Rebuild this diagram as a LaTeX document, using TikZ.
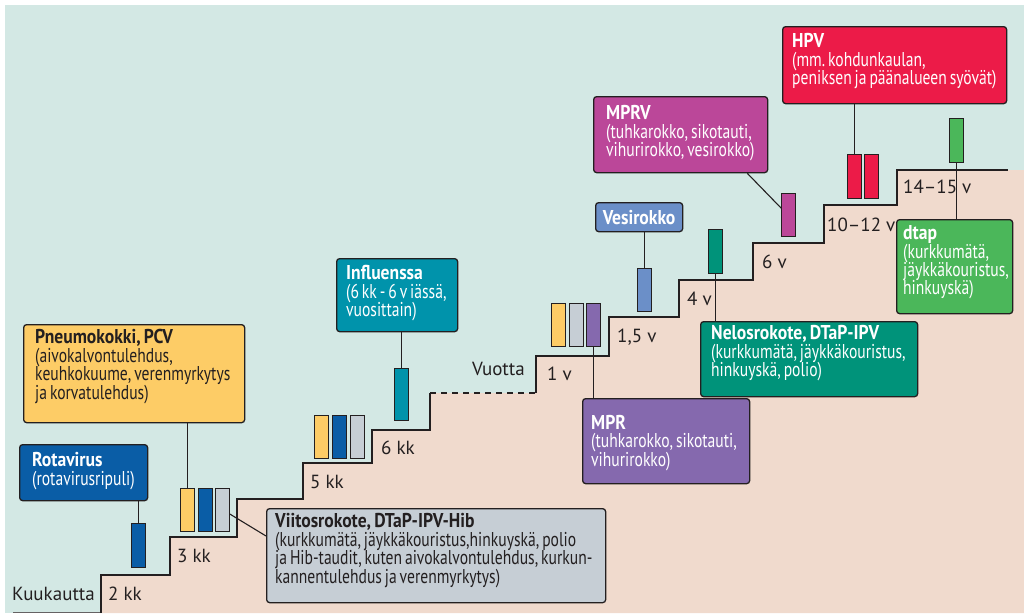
\documentclass[tikz,border=0pt]{standalone}
\usepackage{fontspec}
\setmainfont{PT Sans}
\newfontfamily\condfont[WordSpace=0.7, UprightFeatures={FakeStretch=0.78}, BoldFeatures={FakeStretch=0.88}]{PT Sans}
\usetikzlibrary{calc}

\definecolor{ink}{HTML}{231F20}
\definecolor{tausta}{HTML}{D3E8E4}
\definecolor{porras}{HTML}{F0DACD}
\definecolor{rotasin}{HTML}{0A5DA6}
\definecolor{pcvkelt}{HTML}{FDCC66}
\definecolor{viitoharm}{HTML}{C6CED5}
\definecolor{influturk}{HTML}{0093AB}
\definecolor{vesisin}{HTML}{6B8FC8}
\definecolor{mprvio}{HTML}{8569AE}
\definecolor{nelosvih}{HTML}{00937A}
\definecolor{mprvpun}{HTML}{BB4799}
\definecolor{hpvpun}{HTML}{EC1B48}
\definecolor{dtapvih}{HTML}{4BB75A}

\newcommand\boxfont{\condfont\fontsize{20}{18.4}\selectfont\frenchspacing\lineskiplimit=-20pt}
\newcommand\stepfont{\fontsize{19}{20}\selectfont}

\tikzset{
  vbox/.style={draw=ink, line width=1.3pt, rounded corners=3pt, anchor=north west, inner sep=0pt},
  vtext/.style={anchor=north west, inner sep=0pt, align=left, font=\boxfont, text=white},
  bar/.style={draw=ink, line width=1.3pt, anchor=north west, inner sep=0pt,
    minimum width=13.5pt, minimum height=43pt},
  steplbl/.style={anchor=base west, inner sep=0pt, font=\stepfont, text=ink},
  link/.style={draw=ink, line width=1.1pt},
}

\begin{document}
\begin{tikzpicture}[x=1pt, y=-1pt]
  \useasboundingbox (0,0) rectangle (1024,613);

  % Taustat
  \fill[white] (0,0) rectangle (1024,613);
  \fill[tausta] (5,5) rectangle (1024,613);
  \fill[porras] (101,613) -- (101,575) -- (170,575) -- (170,537) -- (237,537)
    -- (237,499) -- (303,499) -- (303,463) -- (372,463) -- (372,430) -- (430,430)
    -- (430,393) -- (536,393) -- (536,356) -- (609,356) -- (609,317) -- (679,317)
    -- (679,280) -- (753,280) -- (753,243) -- (824,243) -- (824,205) -- (897,205)
    -- (897,170) -- (1024,170) -- (1024,613) -- cycle;

  % Portaat
  \draw[ink!70, line width=1pt] (13,612) -- (101,612);
  \draw[ink, line width=1.5pt] (101,613) -- (101,575) -- (170,575) -- (170,537)
    -- (237,537) -- (237,499) -- (303,499) -- (303,463) -- (372,463) -- (372,430)
    -- (430,430) -- (430,393);
  \draw[ink, line width=1.5pt, dash pattern=on 6pt off 5pt] (430,393) -- (536,393);
  \draw[ink, line width=1.5pt] (536,393) -- (536,356) -- (609,356) -- (609,317)
    -- (679,317) -- (679,280) -- (753,280) -- (753,243) -- (824,243) -- (824,205)
    -- (897,205) -- (897,170) -- (1008,170);

  % Ika-tekstit
  \node[steplbl] (kuuk) at (12,600) {Kuukautta};
  \node[steplbl] (kk2) at (108,600) {2 kk};
  \node[steplbl] (kk3) at (177,562) {3 kk};
  \node[steplbl] (kk5) at (310,488) {5 kk};
  \node[steplbl] (kk6) at (381,454) {6 kk};
  \node[steplbl] (vuotta) at (472,375) {Vuotta};
  \node[steplbl] (v1) at (547,380) {1 v};
  \node[steplbl] (v15) at (617,342) {1,5 v};
  \node[steplbl] (v4) at (687,305) {4 v};
  \node[steplbl] (v6) at (762,268) {6 v};
  \node[steplbl] (v1012) at (827,231) {10–12 v};
  \node[steplbl] (v1415) at (903,193) {14–15 v};

  % Rokotteiden laatikot
  \node[vbox, fill=rotasin, minimum width=128pt, minimum height=56pt] (rota) at (19,444) {};
  \node[vtext] (rotatxt) at ($(rota.north west)+(13,8.5)$)
    {\textbf{Rotavirus}\\(rotavirusripuli)};
  \node[vbox, fill=pcvkelt, minimum width=221pt, minimum height=98pt] (pcv) at (23,324) {};
  \node[vtext, text=ink] (pcvtxt) at ($(pcv.north west)+(12,5.5)$)
    {\textbf{Pneumokokki, PCV}\\(aivokalvontulehdus,\\keuhkokuume, verenmyrkytys\\ja korvatulehdus)};
  \node[vbox, fill=viitoharm, minimum width=339pt, minimum height=94pt] (viito) at (266,508) {};
  \node[vtext, text=ink] (viitotxt) at ($(viito.north west)+(9,5.5)$)
    {\textbf{Viitosrokote, DTaP-IPV-Hib}\\(kurkkumätä, jäykkäkouristus,hinkuyskä, polio\\ja Hib-taudit, kuten aivokalvontulehdus, kurkun-\\kannentulehdus ja verenmyrkytys)};
  \node[vbox, fill=influturk, minimum width=121pt, minimum height=73pt] (influ) at (336,258) {};
  \node[vtext] (influtxt) at ($(influ.north west)+(10,7.5)$)
    {\textbf{Influenssa}\\(6 kk - 6 v iässä,\\vuosittain)};
  \node[vbox, fill=vesisin, minimum width=87pt, minimum height=29pt] (vesi) at (595,202) {};
  \node[vtext, anchor=center] (vesitxt) at (vesi.center) {\textbf{Vesirokko}};
  \node[vbox, fill=mprvio, minimum width=167pt, minimum height=85pt] (mpr) at (582,398) {};
  \node[vtext] (mprtxt) at ($(mpr.north west)+(9,17)$)
    {\textbf{MPR}\\(tuhkarokko, sikotauti,\\vihurirokko)};
  \node[vbox, fill=nelosvih, minimum width=217pt, minimum height=75pt] (nelos) at (700,321) {};
  \node[vtext] (nelostxt) at ($(nelos.north west)+(11,4.5)$)
    {\textbf{Nelosrokote, DTaP-IPV}\\(kurkkumätä, jäykkäkouristus,\\hinkuyskä, polio)};
  \node[vbox, fill=mprvpun, minimum width=174pt, minimum height=76pt] (mprv) at (593,96) {};
  \node[vtext] (mprvtxt) at ($(mprv.north west)+(13,9.5)$)
    {\textbf{MPRV}\\(tuhkarokko, sikotauti,\\vihurirokko, vesirokko)};
  \node[vbox, fill=hpvpun, minimum width=224pt, minimum height=77pt] (hpv) at (782,26) {};
  \node[vtext] (hpvtxt) at ($(hpv.north west)+(10,7.5)$)
    {\textbf{HPV}\\(mm. kohdunkaulan,\\peniksen ja päänalueen syövät)};
  \node[vbox, fill=dtapvih, minimum width=116pt, minimum height=94pt] (dtap) at (896,219) {};
  \node[vtext] (dtaptxt) at ($(dtap.north west)+(7,6.5)$)
    {\textbf{dtap}\\(kurkkumätä,\\jäykkäkouristus,\\hinkuyskä)};

  % Palkit
  \node[bar, fill=rotasin, minimum height=44pt] (rotabar) at (131,523) {};
  \node[bar, fill=pcvkelt] (pcv3) at (180,488) {};
  \node[bar, fill=rotasin] (rota3) at (198,488) {};
  \node[bar, fill=viitoharm] (viito3) at (215,488) {};
  \node[bar, fill=pcvkelt] (pcv5) at (314,415) {};
  \node[bar, fill=rotasin] (rota5) at (332,415) {};
  \node[bar, fill=viitoharm] (viito5) at (350,415) {};
  \node[bar, fill=influturk, minimum height=52pt] (influbar) at (394,368) {};
  \node[bar, fill=pcvkelt] (pcv1) at (551,303) {};
  \node[bar, fill=viitoharm] (viito1) at (569,303) {};
  \node[bar, fill=mprvio] (mprbar) at (586,303) {};
  \node[bar, fill=vesisin] (vesibar) at (637,268) {};
  \node[bar, fill=nelosvih, minimum height=44pt] (nelosbar) at (708,229) {};
  \node[bar, fill=mprvpun] (mprvbar) at (781,193) {};
  \node[bar, fill=hpvpun, minimum height=44pt] (hpvbar1) at (847,154) {};
  \node[bar, fill=hpvpun, minimum height=44pt] (hpvbar2) at (864,154) {};
  \node[bar, fill=dtapvih, minimum height=44pt] (dtapbar) at (949,118) {};

  % Viivat
  \draw[link] (rotabar.north) -- (rotabar.north |- rota.south);
  \draw[link] (pcv3.north) -- (pcv3.north |- pcv.south);
  \draw[link] ($(viito3.north east)+(0,26)$) -- ($(viito.north west)+(0,28)$);
  \draw[link] (influbar.north) -- (influbar.north |- influ.south);
  \draw[link] (mprbar.south) -- (mprbar.south |- mpr.north);
  \draw[link] (vesibar.north) -- (vesibar.north |- vesi.south);
  \draw[link] (nelosbar.south) -- (nelosbar.south |- nelos.north);
  \draw[link] ($(mprv.south east)+(-21,0)$) -- ($(mprvbar.north west)+(0,15)$);
  \draw[link] (hpvbar1.north) -- (hpvbar1.north |- hpv.south);
  \draw[link] (dtapbar.south) -- (dtapbar.south |- dtap.north);

\end{tikzpicture}
\end{document}
